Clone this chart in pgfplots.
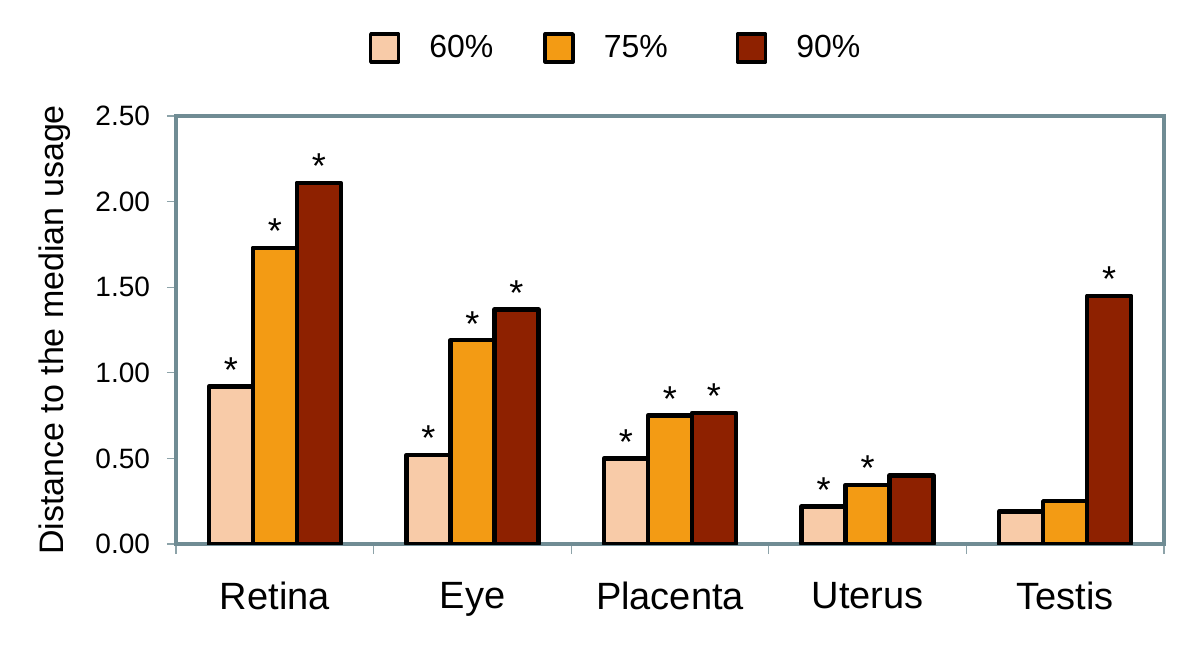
\documentclass[border=0pt]{standalone}
\usepackage{pgfplots}
\pgfplotsset{compat=1.18}
\usepackage{fontspec}
\setmainfont{Liberation Sans}
\definecolor{cA}{HTML}{F8CBA8}
\definecolor{cB}{HTML}{F39B14}
\definecolor{cC}{HTML}{8E2100}
\definecolor{frame}{HTML}{708C94}
\begin{document}
\begin{tikzpicture}
\begin{axis}[
  at={(0,0)}, anchor=south west,
  scale only axis, width=494pt, height=214pt,
  xmin=-0.5, xmax=4.5, ymin=0, ymax=2.5,
  ybar=0pt, bar width=22pt,
  axis line style={frame, line width=2pt},
  xtick={0,1,2,3,4},
  xticklabels={Retina,Eye,Placenta,Uterus,Testis},
  minor xtick={-0.5,0.5,1.5,2.5,3.5,4.5},
  major x tick style={draw=none},
  minor x tick style={frame!80, line width=0.6pt},
  minor tick length=5pt,
  xtick pos=bottom, ytick pos=left,
  tick align=outside,
  ytick={0,0.5,1,1.5,2,2.5},
  y tick style={frame!80, line width=0.6pt},
  major tick length=4.5pt,
  yticklabel style={/pgf/number format/.cd, fixed, fixed zerofill, precision=2, assume math mode=true, /tikz/.cd, font=\fontsize{14pt}{16pt}\selectfont, xshift=-5pt},
  xticklabel style={font=\fontsize{19pt}{22pt}\selectfont, yshift=-11pt},
  ylabel={Distance to the median usage},
  ylabel style={at={(axis description cs:-0.1225,0.5)}, anchor=center, font=\fontsize{17pt}{20pt}\selectfont},
  every axis plot/.append style={draw=black, line width=2.2pt, line join=round},
  point meta=explicit symbolic,
  nodes near coords={\pgfplotspointmeta},
  every node near coord/.append style={font=\fontsize{18pt}{20pt}\selectfont, inner sep=1pt, black},
  legend columns=3,
  legend style={draw=none, fill=none, at={(0.446,1.159)}, anchor=center,
    font=\fontsize{16pt}{19pt}\selectfont,
    /tikz/every odd column/.append style={column sep=12.5pt},
    /tikz/every even column/.append style={column sep=23pt}},
  legend cell align=left,
  legend image code/.code={\draw[#1, line width=1.7pt] (0pt,-7pt) rectangle (14pt,7pt);},
]
\addplot[fill=cA] coordinates {(0,0.92) [*] (1,0.52) [*] (2,0.50) [*] (3,0.22) [*] (4,0.19) []};
\addplot[fill=cB] coordinates {(0,1.73) [*] (1,1.19) [*] (2,0.75) [*] (3,0.345) [*] (4,0.25) []};
\addplot[fill=cC] coordinates {(0,2.11) [*] (1,1.37) [*] (2,0.765) [*] (3,0.40) [] (4,1.45) [*]};
\legend{60\%,75\%\rule{9pt}{0pt},90\%}
\end{axis}
\pgfresetboundingbox
\path[use as bounding box] (-88pt,-50.5pt) rectangle (512pt,272pt);
\end{tikzpicture}
\end{document}
